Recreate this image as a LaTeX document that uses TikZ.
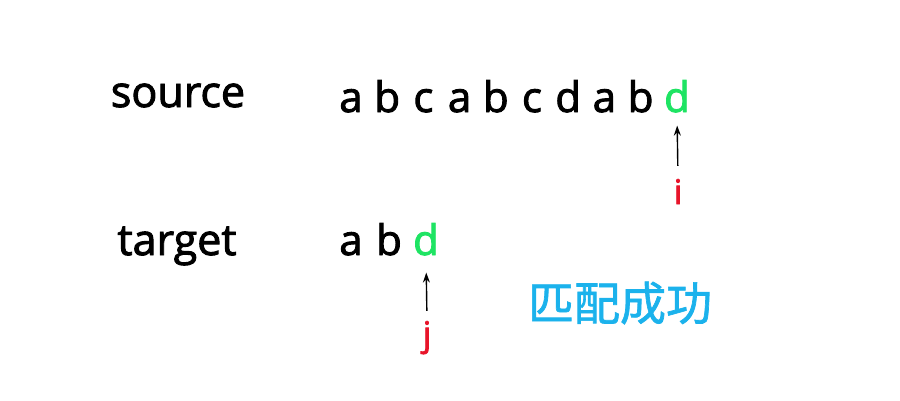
\documentclass[tikz,border=0pt]{standalone}
\usepackage{fontspec}
\setmainfont{Open Sans}[FakeBold=2.2]
\newfontfamily\cjk{Noto Sans CJK SC}[FakeBold=1.5]
\usetikzlibrary{arrows.meta}
\definecolor{okgreen}{HTML}{1EE463}
\definecolor{ptrred}{HTML}{E8142A}
\definecolor{cjkblue}{HTML}{1BB2EC}
\begin{document}
\begin{tikzpicture}[x=1pt,y=-1pt,
  letter/.style={inner sep=0pt,anchor=base,font=\fontsize{42}{46}\selectfont},
  lbl/.style={inner sep=0pt,anchor=base,font=\fontsize{43}{46}\selectfont},
  ptr/.style={inner sep=0pt,anchor=base,text=ptrred,font=\fontsize{34}{38}\selectfont},
  ptrarrow/.style={-{Stealth[length=10pt,width=7pt]},line width=1.4pt}]
\fill[white] (0,0) rectangle (900,400);
\useasboundingbox (0,0) rectangle (900,400);
\node[lbl] (source) at (178,107) {source};
\node[lbl] (target) at (177,255) {target};
\foreach \c [count=\k from 0] in {a,b,c,a,b,c,d,a,b} {
  \node[letter] (s\k) at (351+36.2*\k,112) {\c};
}
\node[letter,text=okgreen] (s9) at (677,112) {d};
\node[letter] (t0) at (351,255) {a};
\node[letter] (t1) at (389,255) {b};
\node[letter,text=okgreen] (t2) at (426,255) {d};
\node[ptr] (i) at (678,204) {i};
\node[ptr] (j) at (427,346) {j};
\draw[ptrarrow,shorten <=13pt,shorten >=13pt] (i.north) -- (s9.south);
\draw[ptrarrow,shorten <=10pt,shorten >=17pt] (j.north) -- (t2.south);
\node[inner sep=0pt,text=cjkblue,font=\cjk\fontsize{46}{50}\selectfont] (ok) at (620,303) {匹配成功};
\end{tikzpicture}
\end{document}
